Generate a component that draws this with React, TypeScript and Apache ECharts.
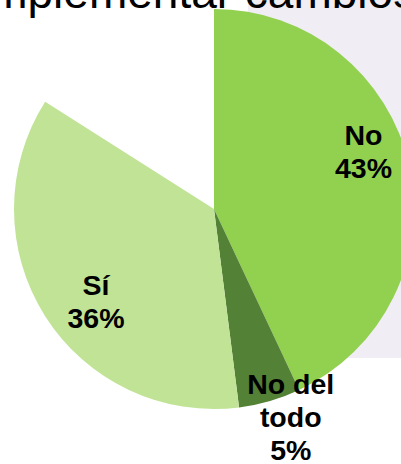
import React, { useEffect, useRef } from "react";
import * as echarts from "echarts";

const categories = ["No", "No del todo", "Sí", "Otro"];
const values = [43, 5, 36, 16];
const colors = ["#92D050", "#538135", "#C0E396", "rgba(0,0,0,0)"];
const labelOffsets: [number, number][] = [
  [49, -35],
  [48, 109],
  [-31, 37],
  [0, 0],
];
const titleText = "implementar cambios";

export default function App() {
  const ref = useRef<HTMLDivElement>(null);
  useEffect(() => {
    if (!ref.current) return;
    const chart = echarts.init(ref.current, null, { renderer: "svg" });
    const data = categories.map((name, i) => ({
      name,
      value: values[i],
      itemStyle: { color: colors[i] },
      label:
        i === 3
          ? { show: false }
          : { show: true, offset: labelOffsets[i] },
      silent: i === 3,
    }));
    chart.setOption({
      animation: false,
      backgroundColor: "#ffffff",
      graphic: [
        {
          type: "rect",
          z: -10,
          shape: { x: 248, y: -20, width: 200, height: 378 },
          style: { fill: "#F1EDF4" },
        },
        {
          type: "text",
          z: 10,
          x: -21,
          y: -8,
          style: {
            text: titleText,
            font: "46px 'Liberation Sans', Arial, sans-serif",
            fill: "#000000",
            textAlign: "left",
            textVerticalAlign: "middle",
          },
        },
      ],
      series: [
        {
          type: "pie",
          center: [214, 209],
          radius: [0, 200],
          startAngle: 90,
          clockwise: true,
          avoidLabelOverlap: false,
          emphasis: { disabled: true },
          label: {
            position: "inside",
            color: "#000000",
            fontSize: 28.5,
            fontWeight: "bold",
            fontFamily: "'Liberation Sans', Arial, sans-serif",
            lineHeight: 33,
            align: "center",
            formatter: (p: any) =>
              `${String(p.name).replace(" todo", "\ntodo")}\n${Math.round(p.percent)}%`,
          },
          labelLine: { show: false },
          data,
        },
      ],
    });
    return () => chart.dispose();
  }, []);
  return (
    <div
      ref={ref}
      style={{ position: "fixed", left: 0, top: 0, width: 401, height: 464 }}
    />
  );
}
